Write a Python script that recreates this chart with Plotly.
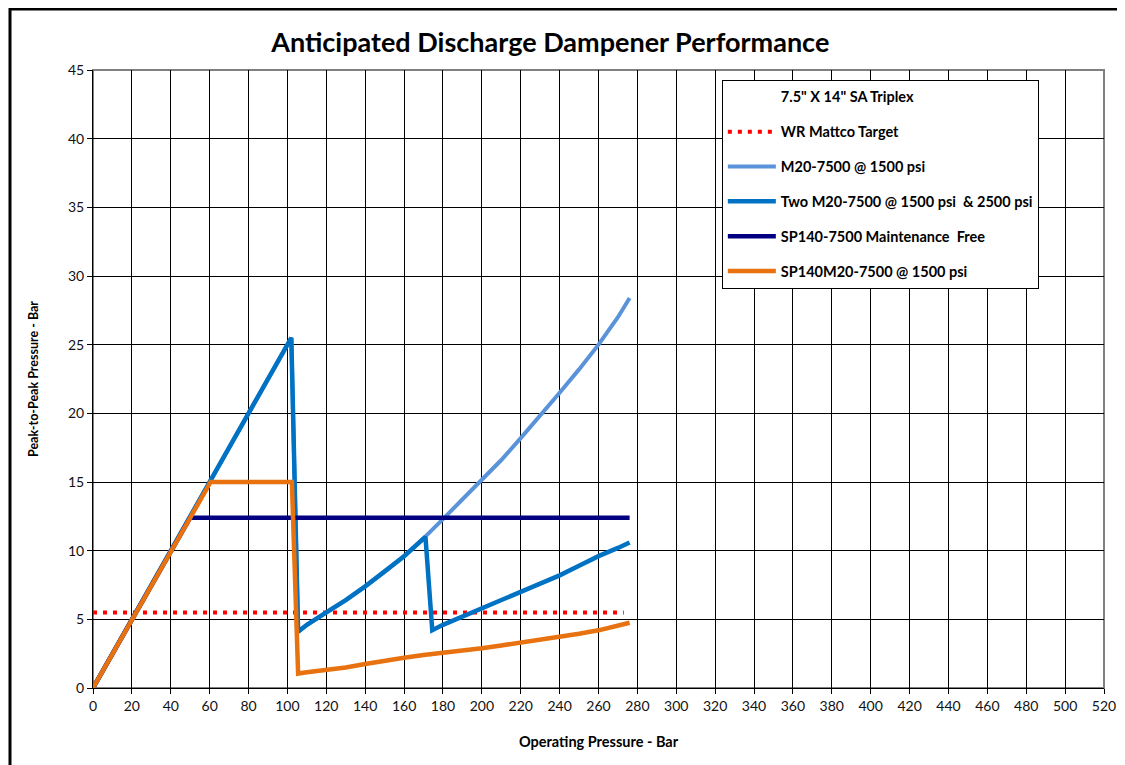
import plotly.graph_objects as go

# ---- data ----
target_x = [0, 273]
target_y = [5.5, 5.5]

m20_x = [0, 102, 105.5, 110, 120, 130, 140, 150, 160, 170, 180, 190, 200, 210, 220, 230, 240, 250, 260, 270, 276]
m20_y = [0, 25.5, 4.1, 4.6, 5.5, 6.4, 7.4, 8.45, 9.6, 10.9, 12.3, 13.7, 15.1, 16.6, 18.2, 19.8, 21.5, 23.2, 25.0, 27.0, 28.4]

two_x = [0, 102, 105.5, 110, 120, 130, 140, 150, 160, 171, 174.5, 180, 190, 200, 210, 220, 230, 240, 250, 260, 270, 276]
two_y = [0, 25.5, 4.1, 4.6, 5.5, 6.4, 7.4, 8.45, 9.6, 11.0, 4.2, 4.6, 5.2, 5.8, 6.4, 7.0, 7.6, 8.2, 8.9, 9.6, 10.2, 10.6]

sp140_x = [0, 50, 276]
sp140_y = [0, 12.4, 12.4]

sp140m20_x = [0, 60.5, 102.3, 105.5, 110, 120, 130, 140, 150, 160, 170, 180, 190, 200, 210, 220, 230, 240, 250, 260, 270, 276]
sp140m20_y = [0, 15.0, 15.0, 1.05, 1.15, 1.3, 1.5, 1.75, 2.0, 2.2, 2.4, 2.55, 2.7, 2.9, 3.1, 3.3, 3.5, 3.7, 3.95, 4.2, 4.5, 4.75]

x_ticks = list(range(0, 521, 20))
y_ticks = list(range(0, 46, 5))

FONT = "Lato"

fig = go.Figure()

fig.add_trace(go.Scatter(x=[None], y=[None], mode="lines", name="<b>7.5\" X 14\" SA Triplex</b>",
                         line=dict(color="rgba(0,0,0,0)", width=0), legendgroup="g0"))
fig.add_trace(go.Scatter(x=target_x, y=target_y, mode="lines", name="<b>WR Mattco Target</b>",
                         line=dict(color="#FF0000", width=4, dash="4px,6px"), legendgroup="g1"))
fig.add_trace(go.Scatter(x=m20_x, y=m20_y, mode="lines", name="<b>M20-7500 @ 1500 psi</b>",
                         line=dict(color="#5B93DA", width=4), legendgroup="g2"))
fig.add_trace(go.Scatter(x=two_x, y=two_y, mode="lines", name="<b>Two M20-7500 @ 1500 psi  & 2500 psi</b>",
                         line=dict(color="#0072C4", width=4.5), legendgroup="g3"))
fig.add_trace(go.Scatter(x=sp140_x, y=sp140_y, mode="lines", name="<b>SP140-7500 Maintenance  Free</b>",
                         line=dict(color="#000080", width=4.5), legendgroup="g4"))
fig.add_trace(go.Scatter(x=sp140m20_x, y=sp140m20_y, mode="lines", name="<b>SP140M20-7500 @ 1500 psi</b>",
                         line=dict(color="#E8720F", width=4.5), legendgroup="g5"))

fig.update_layout(
    width=1125, height=765,
    margin=dict(l=85, r=29, t=62, b=85),
    paper_bgcolor="white", plot_bgcolor="white",
    font=dict(family=FONT, color="#111111", size=14),
    hovermode=False,
    title=dict(text="<b>Anticipated Discharge Dampener Performance</b>",
               x=0.482, xanchor="center", y=0.955, yanchor="middle", yref="container",
               font=dict(family=FONT, size=27, color="#000000")),
    legend=dict(x=0.622, y=0.984, xanchor="left", yanchor="top",
                bgcolor="white", bordercolor="#000000", borderwidth=1,
                font=dict(family=FONT, size=14.5, color="#000000"),
                tracegroupgap=13, itemwidth=48, traceorder="grouped"),
    xaxis=dict(range=[0, 520], tickvals=x_ticks, showgrid=True, gridcolor="#000000", gridwidth=1,
               showline=True, linecolor="#000000", linewidth=1, ticks="outside", ticklen=5,
               tickcolor="#000000", zeroline=False,
               title=dict(text="<b>Operating Pressure - Bar</b>", standoff=24,
                          font=dict(family=FONT, size=14.5, color="#000000"))),
    yaxis=dict(range=[0, 45], tickvals=y_ticks, showgrid=True, gridcolor="#000000", gridwidth=1,
               showline=True, linecolor="#000000", linewidth=1, ticks="outside", ticklen=5,
               tickcolor="#000000", zeroline=False,
               title=dict(text="<b>Peak-to-Peak Pressure - Bar</b>", standoff=26,
                          font=dict(family=FONT, size=12.5, color="#000000"))),
    shapes=[
        dict(type="rect", xref="paper", yref="paper", x0=0, x1=1, y0=0, y1=1,
             line=dict(color="#808080", width=2), layer="below"),
        dict(type="rect", xref="paper", yref="paper", x0=-0.0821, x1=1.05, y0=-0.2, y1=1.0987,
             line=dict(color="#000000", width=3), layer="above"),
    ],
)

fig.write_html("out.html")
